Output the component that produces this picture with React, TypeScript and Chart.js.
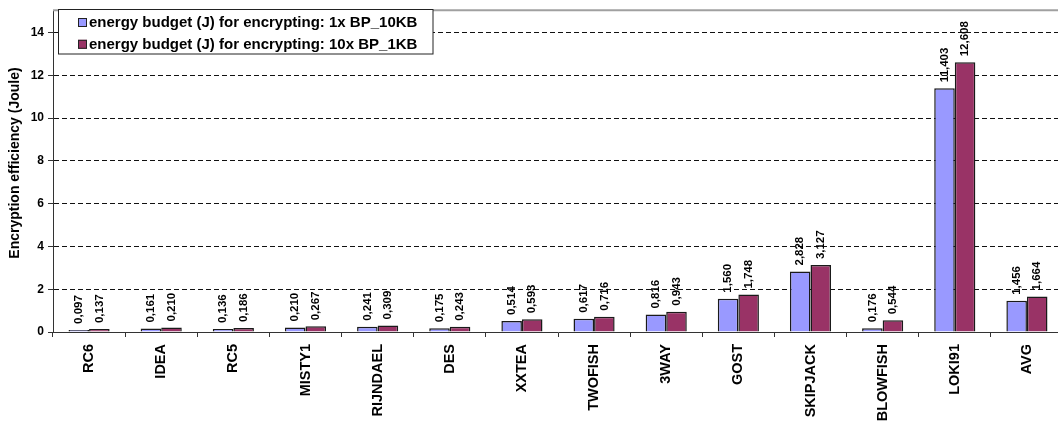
import { useEffect, useRef } from "react";
import { Chart, registerables } from "chart.js";

Chart.register(...registerables);

// Block ciphers and the energy spent encrypting with each one
const categories = [
  "RC6", "IDEA", "RC5", "MISTY1", "RIJNDAEL", "DES", "XXTEA",
  "TWOFISH", "3WAY", "GOST", "SKIPJACK", "BLOWFISH", "LOKI91", "AVG",
];
const budget1x10KB = [
  0.097, 0.161, 0.136, 0.21, 0.241, 0.175, 0.514,
  0.617, 0.816, 1.56, 2.828, 0.176, 11.403, 1.456,
];
const budget10x1KB = [
  0.137, 0.21, 0.186, 0.267, 0.309, 0.243, 0.593,
  0.716, 0.943, 1.748, 3.127, 0.544, 12.608, 1.664,
];
const seriesLabels = [
  "energy budget (J) for encrypting: 1x BP_10KB",
  "energy budget (J) for encrypting: 10x BP_1KB",
];
const seriesColors = ["#9999FF", "#993366"];
const yTickValues = [0, 2, 4, 6, 8, 10, 12, 14];
const yMax = 15;
const yTitle = "Encryption efficiency (Joule)";

const FONT = '"Liberation Sans", Arial, Helvetica, sans-serif';
const fmt = (v: number) => v.toFixed(3).replace(".", ",");

// Rotated value labels above every bar
const valueLabels = {
  id: "valueLabels",
  afterDatasetsDraw(chart: any) {
    const ctx = chart.ctx;
    ctx.save();
    ctx.font = `bold 11.5px ${FONT}`;
    ctx.fillStyle = "#000";
    ctx.textAlign = "left";
    ctx.textBaseline = "middle";
    chart.data.datasets.forEach((ds: any, i: number) => {
      const meta = chart.getDatasetMeta(i);
      meta.data.forEach((bar: any, j: number) => {
        ctx.save();
        ctx.translate(bar.x, bar.y - 6);
        ctx.rotate(-Math.PI / 2);
        ctx.fillText(fmt(ds.data[j]), 0, 0);
        ctx.restore();
      });
    });
    ctx.restore();
  },
};

// Plot frame top line, axis title and the boxed legend
const decorations = {
  id: "decorations",
  afterDraw(chart: any) {
    const ctx = chart.ctx;
    const area = chart.chartArea;
    ctx.save();

    ctx.strokeStyle = "#A0A0A0";
    ctx.lineWidth = 2;
    ctx.beginPath();
    ctx.moveTo(area.left, area.top - 1);
    ctx.lineTo(area.right, area.top - 1);
    ctx.stroke();

    ctx.save();
    ctx.translate(15.5, 163);
    ctx.rotate(-Math.PI / 2);
    ctx.font = `bold 14px ${FONT}`;
    ctx.fillStyle = "#000";
    ctx.textAlign = "center";
    ctx.textBaseline = "middle";
    ctx.fillText(yTitle, 0, 0);
    ctx.restore();

    const bx = 58.5, by = 9.5, bw = 374.5, bh = 44.5;
    ctx.fillStyle = "#fff";
    ctx.fillRect(bx, by, bw, bh);
    ctx.strokeStyle = "#222";
    ctx.lineWidth = 1;
    ctx.strokeRect(bx, by, bw, bh);

    const rows = [22.5, 44.3];
    ctx.font = `bold 15px ${FONT}`;
    ctx.textAlign = "left";
    ctx.textBaseline = "middle";
    chart.data.datasets.forEach((ds: any, i: number) => {
      const cy = rows[i];
      ctx.fillStyle = ds.backgroundColor;
      ctx.fillRect(78, cy - 4.5, 9, 9);
      ctx.strokeStyle = "#222";
      ctx.strokeRect(78.5, cy - 4, 8, 8);
      ctx.fillStyle = "#000";
      ctx.fillText(ds.label, 89, cy + 0.5);
    });

    ctx.restore();
  },
};

export default function App() {
  const canvasRef = useRef<HTMLCanvasElement>(null);

  useEffect(() => {
    const canvas = canvasRef.current;
    if (!canvas) return;
    const chart = new Chart(canvas, {
      type: "bar",
      data: {
        labels: categories,
        datasets: [
          {
            label: seriesLabels[0],
            data: budget1x10KB,
            backgroundColor: seriesColors[0],
            borderColor: "#1a1a1a",
            borderWidth: 1.5,
            categoryPercentage: 0.57,
            barPercentage: 1,
          },
          {
            label: seriesLabels[1],
            data: budget10x1KB,
            backgroundColor: seriesColors[1],
            borderColor: "#1a1a1a",
            borderWidth: 1.5,
            categoryPercentage: 0.57,
            barPercentage: 1,
          },
        ],
      },
      options: {
        responsive: false,
        animation: false,
        devicePixelRatio: 1,
        layout: { padding: { top: 6, right: 7, left: 0, bottom: 0 } },
        plugins: {
          legend: { display: false },
          tooltip: { enabled: false },
        },
        scales: {
          x: {
            afterFit(scale: any) {
              scale.height = 89;
            },
            grid: {
              display: true,
              drawOnChartArea: false,
              drawTicks: true,
              tickLength: 5,
              tickColor: "#333",
              offset: true,
            },
            border: { display: true, color: "#333", width: 1 },
            ticks: {
              autoSkip: false,
              minRotation: 90,
              maxRotation: 90,
              padding: 7,
              color: "#000",
              font: { family: FONT, size: 14.5, weight: "bold" },
            },
          },
          y: {
            min: 0,
            max: yMax,
            afterFit(scale: any) {
              scale.width = 53;
            },
            afterBuildTicks(scale: any) {
              scale.ticks = yTickValues.map((v) => ({ value: v }));
            },
            grid: {
              color: (c: any) => (c.tick && c.tick.value === 0 ? "rgba(0,0,0,0)" : "#111"),
              lineWidth: 1,
              drawTicks: true,
              tickLength: 5,
              tickColor: "#333",
            },
            border: { display: true, color: "#333", width: 1, dash: [5, 3] },
            ticks: {
              padding: 4,
              color: "#000",
              font: { family: FONT, size: 12, weight: "bold" },
              callback: (v: any) => String(v),
            },
          },
        },
      },
      plugins: [valueLabels, decorations],
    });
    return () => chart.destroy();
  }, []);

  return (
    <div
      style={{
        position: "absolute",
        left: 0,
        top: 0,
        width: 1058,
        height: 421,
        overflow: "hidden",
        background: "#fff",
      }}
    >
      <canvas
        ref={canvasRef}
        width={1070}
        height={421}
        style={{ display: "block", width: 1070, height: 421 }}
      />
    </div>
  );
}
